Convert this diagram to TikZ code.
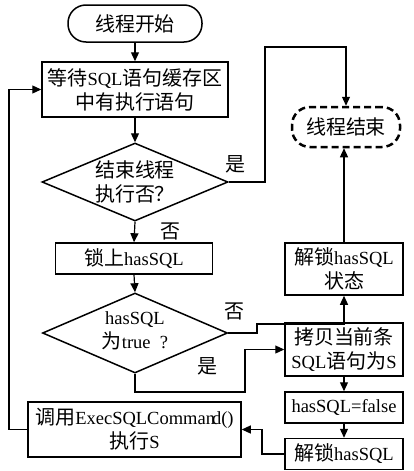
\documentclass[tikz,border=0pt]{standalone}
\usepackage{fontspec}
\setmainfont{Liberation Serif}
\newfontfamily\cjk[Scale=1.08]{Noto Sans CJK SC}
\newcommand\zh[1]{{\cjk #1}}
\usetikzlibrary{arrows.meta,shapes.geometric,calc}
\begin{document}
\begin{tikzpicture}[x=1pt,y=-1pt,
  every node/.style={font=\fontsize{18.5}{24}\selectfont, align=center},
  box/.style={draw, line width=1.5pt, inner sep=0pt},
  dia/.style={draw, diamond, line width=1.5pt, inner sep=0pt},
  arr/.style={line width=1.2pt, -{Triangle[length=9pt,width=8pt]}},
  lbl/.style={inner sep=0pt}]
\useasboundingbox (0,0) rectangle (414,471);
\node[box, rounded corners=18pt, minimum width=134pt, minimum height=37pt] (start) at (135,23.5) {\zh{线程开始}};
\node[box, minimum width=186pt, minimum height=55pt] (box1) at (135,89.5) {\zh{等待}SQL\zh{语句缓存区}\\\zh{中有执行语句}};
\node[dia, minimum width=186pt, minimum height=78pt] (d1) at (135,182) {};
\node[lbl] (d1t) at (135,182) {\zh{结束线程}\\\zh{执行否？}};
\node[box, dashed, dash pattern=on 7pt off 4pt, line width=2.5pt, rounded corners=18pt, minimum width=108pt, minimum height=40pt] (end) at (346,127) {\zh{线程结束}};
\node[box, minimum width=157pt, minimum height=31pt] (box2) at (134,258.5) {\zh{锁上}hasSQL};
\node[dia, minimum width=185pt, minimum height=80pt] (d2) at (135,333) {};
\node[lbl] (d2t) at (135,331) {hasSQL\\\zh{为}true\ \ ?};
\node[box, minimum width=118pt, minimum height=52pt] (unlock1) at (344,269) {\zh{解锁}hasSQL\\\zh{状态}};
\node[box, minimum width=118pt, minimum height=53pt] (copy) at (344,349.5) {\zh{拷贝当前条}\\SQL\zh{语句为}S};
\node[box, minimum width=118pt, minimum height=31pt] (false) at (344,407.5) {hasSQL=false};
\node[box, minimum width=118pt, minimum height=31pt] (unlock2) at (344,454) {\zh{解锁}hasSQL};
\node[box, minimum width=213pt, minimum height=55pt] (exec) at (134.5,429.5) {\zh{调用}ExecSQLComman\kern-3pt d()\\\zh{执行}S};
\coordinate (c1) at (265,47);
\coordinate (c2) at (257,324);
\coordinate (c4) at (245,392);
\coordinate (c5) at (262,429.5);
\coordinate (c6) at (9,429.5);
\draw[arr] (start) -- (box1);
\draw[arr] (box1) -- (d1.north);
\draw[arr] (d1.east) -| (c1) -| (end.north);
\draw[arr] (d1.south) -- (box2.north);
\draw[arr] (box2.south) -- (d2.north);
\draw[arr] (d2.east) -| (c2) -| (unlock1.south);
\draw[arr] (unlock1.north) -- (unlock1.north |- end.south);
\draw[arr] (d2.south) |- (c4) |- (copy.west);
\draw[arr] (copy.south) -- (false.north);
\draw[arr] (false.south) -- (unlock2.north);
\draw[arr] (unlock2.west) -| (c5) -- (exec.east);
\draw[arr] (exec.west) -- (c6) |- (box1.west);
\node[lbl] (y1) at (235,164) {\zh{是}};
\node[lbl] (n1) at (170,231) {\zh{否}};
\node[lbl] (n2) at (234,311) {\zh{否}};
\node[lbl] (y2) at (207,366) {\zh{是}};
\end{tikzpicture}
\end{document}
